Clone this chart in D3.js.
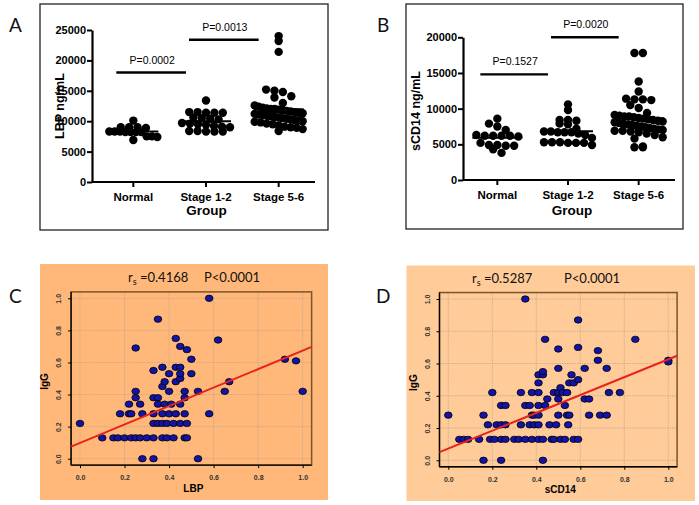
<!DOCTYPE html>
<html><head><meta charset="utf-8">
<script src="https://cdn.jsdelivr.net/npm/d3@7"></script>
<style>body{margin:0;background:#fff}svg{display:block}</style>
</head><body>
<script>
// ---------- DATA ----------
const groups = ["Normal", "Stage 1-2", "Stage 5-6"];
const lbpNormal = [10100, 9000, 9000, 8900, 9000, 8200, 8300, 8200, 8300, 8200, 8300, 8200, 7400, 7500, 7500, 6900];
const lbpStage12 = [13400, 11400, 11500, 11400, 11500, 11400, 10600, 10500, 10400, 10300, 9500, 9400, 9700, 9600, 9200, 9100, 9000, 8300, 8400, 8400, 8300, 8300];
const lbpStage56 = [24000, 23200, 21400, 15200, 15000, 14800, 14100, 13900, 13000, 12600, 12400, 12200, 12100, 12000, 12000, 11900, 11800, 11700, 11600, 11500, 11400, 11300, 11200, 11100, 11000, 10900, 10800, 10700, 10600, 10500, 10400, 10300, 10200, 10100, 10000, 9900, 9800, 9600, 9500, 9300, 9100, 9000, 8900, 8700, 8400];
const scdNormal = [8600, 7900, 7500, 7000, 6200, 6200, 6100, 6200, 6300, 6200, 5200, 4900, 4800, 4900, 4800, 4300, 3800];
const scdStage12 = [10600, 9800, 8400, 8300, 8400, 7800, 7900, 7200, 6800, 6700, 6700, 6800, 6700, 6500, 6300, 5900, 5300, 5200, 5300, 5200, 5200, 5300, 4900];
const scdStage56 = [17800, 17800, 13800, 12400, 11300, 11300, 11400, 11200, 10500, 10100, 9400, 9100, 9000, 8900, 8900, 8800, 8700, 8600, 8500, 8400, 8300, 8200, 8100, 8000, 7900, 7800, 7700, 7600, 7500, 7400, 7300, 7200, 7100, 7000, 6900, 6900, 6800, 6700, 6500, 6300, 6000, 5800, 4700, 4600, 4600];
const ticksA = [0, 5000, 10000, 15000, 20000, 25000];
const ticksB = [0, 5000, 10000, 15000, 20000];
const pA = ["P=0.0002", "P=0.0013"];
const pB = ["P=0.1527", "P=0.0020"];

const lbpC = [0,0.10,0.15,0.17,0.20,0.18,0.22,0.22,0.23,0.23,0.25,0.27,0.30,0.25,0.25,0.25,0.27,0.28,0.28,0.33,0.33,0.33,0.33,0.35,0.33,0.35,0.37,0.39,0.42,0.45,0.48,0.33,0.37,0.40,0.43,0.47,0.35,0.38,0.41,0.45,0.35,0.37,0.39,0.42,0.37,0.37,0.38,0.40,0.40,0.43,0.43,0.43,0.45,0.45,0.45,0.45,0.47,0.47,0.47,0.48,0.48,0.50,0.50,0.53,0.53,0.58,0.58,0.62,0.65,0.67,0.92,0.97,1.0];
const iggC = [0.22,0.13,0.13,0.13,0.13,0.28,0.34,0.28,0.28,0.13,0.13,0.13,0.13,0.69,0.42,0.38,0.34,0.28,0.0,0.0,0.13,0.55,0.38,0.38,0.22,0.22,0.22,0.22,0.22,0.22,0.22,0.28,0.28,0.28,0.28,0.28,0.34,0.34,0.34,0.34,0.87,0.13,0.13,0.13,0.45,0.57,0.48,0.42,0.53,0.75,0.48,0.57,0.57,0.50,0.53,0.70,0.38,0.42,0.13,0.13,0.68,0.62,0.53,0.42,0.0,1.0,0.28,0.74,0.42,0.48,0.62,0.61,0.42];
const scdD = [0,0.05,0.07,0.09,0.14,0.16,0.16,0.18,0.20,0.19,0.21,0.24,0.26,0.22,0.24,0.26,0.24,0.24,0.26,0.30,0.32,0.35,0.38,0.41,0.43,0.47,0.33,0.33,0.35,0.35,0.37,0.37,0.39,0.41,0.38,0.39,0.41,0.38,0.41,0.41,0.41,0.43,0.43,0.41,0.44,0.44,0.45,0.43,0.48,0.51,0.53,0.48,0.50,0.46,0.49,0.50,0.50,0.50,0.50,0.51,0.52,0.54,0.53,0.54,0.55,0.545,0.56,0.55,0.57,0.57,0.59,0.59,0.59,0.59,0.62,0.64,0.64,0.62,0.68,0.68,0.69,0.72,0.72,0.73,0.78,0.85,1.0,1.0];
const iggD = [0.28,0.13,0.13,0.13,0.13,0.28,0.0,0.22,0.42,0.13,0.13,0.13,0.13,0.22,0.22,0.22,0.0,0.34,0.34,0.13,0.13,0.13,0.13,0.13,0.13,0.13,0.22,0.42,1.0,0.34,0.34,0.22,0.22,0.22,0.28,0.28,0.28,0.42,0.42,0.48,0.53,0.53,0.55,0.34,0.75,0.34,0.38,0.0,0.13,0.13,0.13,0.42,0.42,0.22,0.22,0.69,0.57,0.38,0.28,0.45,0.42,0.42,0.34,0.28,0.28,0.22,0.53,0.48,0.48,0.13,0.13,0.50,0.87,0.70,0.38,0.38,0.28,0.57,0.68,0.62,0.28,0.57,0.28,0.42,0.42,0.75,0.62,0.61];
const fitC = [0.098, 0.576];   // intercept, slope
const fitD = [0.073, 0.553];
const ticksXY = [0, 0.2, 0.4, 0.6, 0.8, 1.0];
const statC = ["0.4168", "P<0.0001"];
const statD = ["0.5287", "P<0.0001"];

// ---------- DRAW ----------
const W = 699, H = 505;
const svg = d3.select("body").append("svg").attr("width", W).attr("height", H);
const ARIAL = "'Liberation Sans', Arial, sans-serif";
const CAL = "Lato, 'Open Sans', sans-serif";

// GraphPad-like column scatter: bin into rows, spread each row horizontally
function rowScatter(vals, y, d, maxW) {
  const rows = d3.group(vals.map(v => ({v, y: y(v)})), p => Math.round(p.y / d));
  const out = [];
  for (const [, pts] of rows) {
    const n = pts.length;
    const s = n > 1 ? Math.min(d, maxW / (n - 1)) : 0;
    pts.sort((a, b) => b.v - a.v);
    pts.forEach((p, i) => { p.x = (i - (n - 1) / 2) * s; out.push(p); });
  }
  return out;
}

function dotPanel(cfg) {
  const g = svg.append("g");
  g.append("rect").attr("x", cfg.box[0]).attr("y", cfg.box[1]).attr("width", cfg.box[2]).attr("height", cfg.box[3])
    .attr("fill", "none").attr("stroke", "#222").attr("stroke-width", 1.3);
  g.append("text").attr("x", cfg.letter[0]).attr("y", cfg.letter[1]).text(cfg.letterText)
    .attr("font-family", CAL).attr("font-size", 19).attr("fill", "#111");
  const y = cfg.y, x = cfg.x;
  const yAxis = d3.axisLeft(y).tickValues(cfg.ticks).tickSize(5).tickSizeOuter(0).tickFormat(d3.format("d"));
  const ya = g.append("g").attr("transform", `translate(${cfg.axisX},0)`).call(yAxis);
  ya.select(".domain").attr("stroke-width", 2.2);
  ya.selectAll(".tick line").attr("stroke-width", 2);
  ya.selectAll("text").attr("font-family", ARIAL).attr("font-weight", "bold").attr("font-size", 11).attr("x", -6);
  const xAxis = d3.axisBottom(x).tickSize(5).tickSizeOuter(0);
  const xa = g.append("g").attr("transform", `translate(0,${y(0)})`).call(xAxis);
  xa.select(".domain").remove();
  xa.append("line").attr("x1", cfg.axisX).attr("x2", cfg.axisEnd).attr("stroke", "#000").attr("stroke-width", 2.2);
  xa.selectAll(".tick line").attr("stroke-width", 2);
  xa.selectAll("text").attr("font-family", ARIAL).attr("font-weight", "bold").attr("font-size", 11.5).attr("fill", "#000").attr("dy", "0.95em");
  g.append("text").attr("x", (cfg.axisX + cfg.axisEnd) / 2 + 3).attr("y", 215).attr("text-anchor", "middle")
    .text("Group").attr("font-family", ARIAL).attr("font-weight", "bold").attr("font-size", 13.5);
  g.append("text").attr("transform", `translate(${cfg.ylab[0]},${cfg.ylab[1]}) rotate(-90)`).attr("text-anchor", "middle")
    .text(cfg.ylabText).attr("font-family", ARIAL).attr("font-weight", "bold").attr("font-size", 12.5);
  const r = 4.2;
  cfg.data.forEach((vals, i) => {
    const cx = x(groups[i]) + x.bandwidth() / 2;
    const pts = rowScatter(vals, y, 2 * r, 48);
    g.append("g").selectAll("circle").data(pts).join("circle")
      .attr("cx", d => cx + d.x).attr("cy", d => d.y).attr("r", r).attr("fill", "#000");
    const m = d3.mean(vals);
    g.append("line").attr("x1", cx - 25).attr("x2", cx + 25).attr("y1", y(m)).attr("y2", y(m))
      .attr("stroke", "#000").attr("stroke-width", 2);
  });
  cfg.sig.forEach((s, i) => {
    const a = x(groups[i]) + x.bandwidth() / 2, b = x(groups[i + 1]) + x.bandwidth() / 2;
    const x1 = a - 17, x2 = b - 20;
    g.append("line").attr("x1", x1).attr("x2", x2).attr("y1", y(s.v)).attr("y2", y(s.v))
      .attr("stroke", "#000").attr("stroke-width", 2.4);
    g.append("text").attr("x", (x1 + x2) / 2 + 1).attr("y", y(s.v) - 9).attr("text-anchor", "middle")
      .text(s.t).attr("font-family", ARIAL).attr("font-size", 10.5);
  });
}

dotPanel({
  box: [40, 4, 288, 226], letter: [9, 32], letterText: "A",
  y: d3.scaleLinear([0, 25000], [182, 30]), x: d3.scaleBand(groups, [97, 315]),
  ticks: ticksA, axisX: 92, axisEnd: 315, ylab: [64, 106], ylabText: "LBP ng/mL",
  data: [lbpNormal, lbpStage12, lbpStage56],
  sig: [{v: 18000, t: pA[0]}, {v: 23400, t: pA[1]}]
});
dotPanel({
  box: [406, 4, 277, 225], letter: [377, 32], letterText: "B",
  y: d3.scaleLinear([0, 20000], [180, 37.3]), x: d3.scaleBand(groups, [462, 674]),
  ticks: ticksB, axisX: 463, axisEnd: 675, ylab: [420, 111], ylabText: "sCD14 ng/mL",
  data: [scdNormal, scdStage12, scdStage56],
  sig: [{v: 14800, t: pB[0]}, {v: 20000, t: pB[1]}]
});

function scatterPanel(cfg) {
  const g = svg.append("g");
  g.append("rect").attr("x", cfg.box[0]).attr("y", cfg.box[1]).attr("width", cfg.box[2]).attr("height", cfg.box[3])
    .attr("fill", cfg.bg);
  g.append("text").attr("x", cfg.letter[0]).attr("y", cfg.letter[1]).text(cfg.letterText)
    .attr("font-family", CAL).attr("font-size", 19).attr("fill", "#111");
  const x = cfg.x, y = cfg.y;
  const [x0, x1] = [x(-0.04), x(1.04)], [y0, y1] = [y(-0.04), y(1.04)];
  g.append("g").selectAll("line.gx").data(ticksXY).join("line")
    .attr("x1", d => x(d)).attr("x2", d => x(d)).attr("y1", y1).attr("y2", y0)
    .attr("stroke", "#b9a58f").attr("stroke-width", 0.7).attr("stroke-dasharray", "1.5,1");
  g.append("g").selectAll("line.gy").data(ticksXY).join("line")
    .attr("y1", d => y(d)).attr("y2", d => y(d)).attr("x1", x0).attr("x2", x1)
    .attr("stroke", "#b9a58f").attr("stroke-width", 0.7).attr("stroke-dasharray", "1.5,1");
  g.append("rect").attr("x", x0).attr("y", y1).attr("width", x1 - x0).attr("height", y0 - y1)
    .attr("fill", "none").attr("stroke", "#7a5528").attr("stroke-width", 1.5);
  const xa = g.append("g").attr("transform", `translate(0,${y0})`)
    .call(d3.axisBottom(x).tickValues(ticksXY).tickSize(3).tickSizeOuter(0).tickFormat(d3.format(".1f")));
  xa.select(".domain").attr("d", `M${x0},0H${x1}`).attr("stroke-width", 1.3);
  xa.selectAll("text").attr("font-family", ARIAL).attr("font-weight", "bold").attr("font-size", 7).attr("fill", "#333").attr("dy", "1.3em");
  const ya = g.append("g").attr("transform", `translate(${x0},0)`)
    .call(d3.axisLeft(y).tickValues(ticksXY).tickSize(3).tickSizeOuter(0).tickFormat(d3.format(".1f")));
  ya.select(".domain").attr("d", `M0,${y0}V${y1}`).attr("stroke-width", 1.3);
  ya.selectAll("text").attr("font-family", ARIAL).attr("font-weight", "bold").attr("font-size", 7).attr("fill", "#333")
    .attr("text-anchor", "middle").attr("x", 0).attr("dy", 0).attr("transform", "translate(-10,0) rotate(-90)");
  g.append("g").selectAll("ellipse").data(cfg.xs.map((v, i) => [v, cfg.ys[i]])).join("ellipse")
    .attr("cx", d => x(d[0])).attr("cy", d => y(d[1])).attr("rx", 3.8).attr("ry", 3.2)
    .attr("fill", "#1313a6").attr("stroke", "#000").attr("stroke-width", 0.8);
  const f = cfg.fit;
  g.append("line").attr("x1", x0).attr("x2", x1)
    .attr("y1", y(f[0] + f[1] * x.invert(x0))).attr("y2", y(f[0] + f[1] * x.invert(x1)))
    .attr("stroke", "#e8231a").attr("stroke-width", 2);
  g.append("text").attr("x", (x0 + x1) / 2 + 2).attr("y", cfg.xlabY).attr("text-anchor", "middle").text(cfg.xlab)
    .attr("font-family", ARIAL).attr("font-weight", "bold").attr("font-size", 10);
  g.append("text").attr("transform", `translate(${x0 - 23},${(y0 + y1) / 2 + 3}) rotate(-90)`).attr("text-anchor", "middle").text("IgG")
    .attr("font-family", ARIAL).attr("font-weight", "bold").attr("font-size", 10);
  const t = g.append("text").attr("x", cfg.titleX).attr("y", cfg.titleY).attr("font-family", CAL).attr("font-size", 13).attr("fill", "#111");
  t.append("tspan").text("r");
  t.append("tspan").text("s").attr("font-size", 9).attr("dy", 3);
  t.append("tspan").text(" =" + cfg.stat[0]).attr("dy", -3);
  g.append("text").attr("x", cfg.pX).attr("y", cfg.titleY).text(cfg.stat[1]).attr("font-family", CAL).attr("font-size", 13).attr("fill", "#111");
}

scatterPanel({
  box: [40, 264, 288, 236], bg: "#ffb879", letter: [9, 303], letterText: "C",
  x: d3.scaleLinear([0, 1], [80, 302.7]), y: d3.scaleLinear([0, 1], [458.7, 298.3]),
  xs: lbpC, ys: iggC, fit: fitC, xlab: "LBP", xlabY: 492,
  titleX: 128, pX: 204, titleY: 282, stat: statC
});
scatterPanel({
  box: [406.5, 265.5, 288.5, 235.5], bg: "#ffcb98", letter: [376, 303], letterText: "D",
  x: d3.scaleLinear([0, 1], [448.3, 668.3]), y: d3.scaleLinear([0, 1], [460.3, 299]),
  xs: scdD, ys: iggD, fit: fitD, xlab: "sCD14", xlabY: 493,
  titleX: 472, pX: 564, titleY: 283, stat: statD
});
</script>
</body></html>
